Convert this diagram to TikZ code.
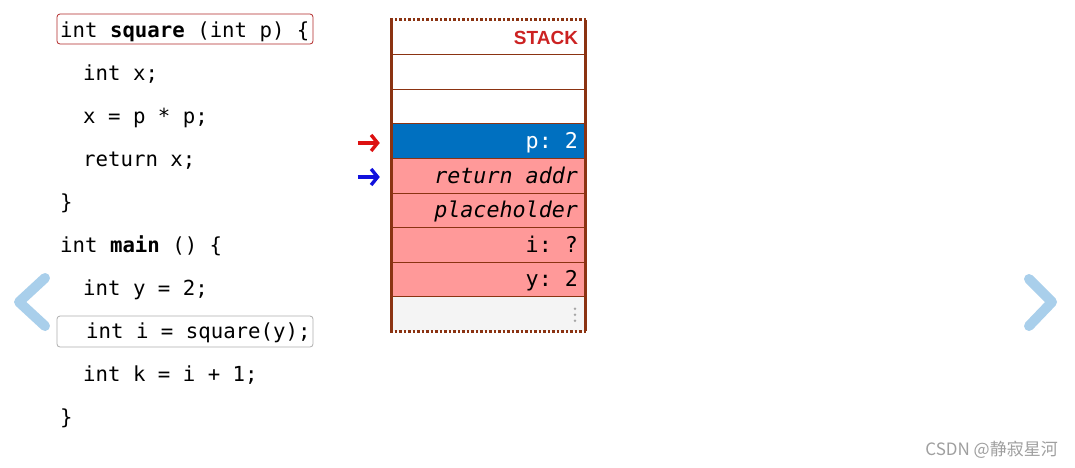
\documentclass[tikz,border=0pt]{standalone}
\usepackage{fontspec}
\setmonofont{DejaVu Sans Mono}
\setsansfont{DejaVu Sans}
\newfontfamily\cjkfont{Noto Sans CJK SC}
\newfontfamily\stackfont{Liberation Sans}
\usetikzlibrary{arrows.meta}
\definecolor{stackbrown}{RGB}{139,51,18}
\definecolor{stackred}{RGB}{204,34,34}
\definecolor{stackblue}{RGB}{0,112,192}
\definecolor{stackpink}{RGB}{255,153,153}
\definecolor{stackgray}{RGB}{244,244,244}
\definecolor{navblue}{RGB}{169,207,235}
\definecolor{boxred}{RGB}{178,40,40}
\definecolor{boxgray}{RGB}{175,175,175}
\definecolor{ptrred}{RGB}{221,17,17}
\definecolor{ptrblue}{RGB}{17,17,221}
\newcommand{\monosp}{\hspace{0.602em}}
\tikzset{
  codeline/.style={anchor=base west, inner sep=0pt, font=\fontsize{20.7}{24}\selectfont\ttfamily},
  codebox/.style={draw, rounded corners=3pt, line width=0.8pt, minimum width=256pt, inner sep=0pt},
  stackrow/.style={minimum width=193pt, minimum height=34.556pt, inner xsep=7pt, inner ysep=0pt,
    text width=179pt, align=right, text height=15pt, text depth=0pt,
    font=\fontsize{21.7}{26}\selectfont\ttfamily},
  rowsep/.style={stackbrown, line width=0.8pt},
  sideline/.style={stackbrown, line width=3pt},
  dotline/.style={stackbrown, line width=3pt, dash pattern=on 2.5pt off 2pt},
  ptr/.style={line width=3.4pt, -{Straight Barb[length=6.5pt,width=16pt]}},
  nav/.style={navblue, line width=10pt, line cap=round, line join=round},
}
\begin{document}
\begin{tikzpicture}[x=1pt,y=-1pt]
\useasboundingbox (0,0) rectangle (1075,467);
\fill[white] (0,0) rectangle (1075,467);

% highlight boxes
\node[codebox, draw=boxred, minimum height=30pt] (b1) at (185,29) {};
\node[codebox, draw=boxgray, minimum height=31pt] (b2) at (185,331.5) {};

% code lines
\node[codeline] (c1) at (60,37) {int \textbf{square} (int p) \{};
\node[codeline] (c2) at (83,80) {int x;};
\node[codeline] (c3) at (83,123) {x = p * p;};
\node[codeline] (c4) at (83,166) {return x;};
\node[codeline] (c5) at (60,209) {\}};
\node[codeline] (c6) at (60,252) {int \textbf{main} () \{};
\node[codeline] (c7) at (83,295) {int y = 2;};
\node[codeline] (c8) at (86,338) {int i = square(y);};
\node[codeline] (c9) at (83,381) {int k = i + 1;};
\node[codeline] (c10) at (60,424) {\}};

% stack rows
\node[stackrow, fill=white, font=\fontsize{19}{22}\selectfont\stackfont\bfseries, text=stackred] (r0) at (488.5,37.28) {STACK};
\node[stackrow, fill=white] (r1) at (488.5,71.83) {};
\node[stackrow, fill=white] (r2) at (488.5,106.39) {};
\node[stackrow, fill=stackblue, text=white] (r3) at (488.5,140.94) {p:\monosp 2};
\node[stackrow, fill=stackpink] (r4) at (488.5,175.5) {\itshape return\monosp addr};
\node[stackrow, fill=stackpink] (r5) at (488.5,210.06) {\itshape placeholder};
\node[stackrow, fill=stackpink] (r6) at (488.5,244.61) {i:\monosp ?};
\node[stackrow, fill=stackpink] (r7) at (488.5,279.17) {y:\monosp 2};
\node[stackrow, fill=stackgray] (r8) at (488.5,313.72) {};

\foreach \i in {0,...,7} {
  \draw[rowsep] (r\i.south west) -- (r\i.south east);
}
\draw[sideline] (r0.north west) -- (r8.south west);
\draw[sideline] (r0.north east) -- (r8.south east);
\draw[dotline] ([xshift=-1.5pt]r0.north west) -- ([xshift=1.5pt]r0.north east);
\draw[dotline] ([xshift=-1.5pt]r8.south west) -- ([xshift=1.5pt]r8.south east);

% dots in the last row
\foreach \dy in {-7,-1,5} {
  \fill[gray!70] ([xshift=86.5pt,yshift=\dy pt]r8.center) circle (1.4pt);
}

% pointers
\draw[ptr, ptrred] ([xshift=-34pt,yshift=-2pt]r3.west) -- ([xshift=-12pt,yshift=-2pt]r3.west);
\draw[ptr, ptrblue] ([xshift=-34pt,yshift=-1.5pt]r4.west) -- ([xshift=-12pt,yshift=-1.5pt]r4.west);

% navigation chevrons
\draw[nav] (45,278) -- (19,302) -- (45,326);
\draw[nav] (1029,279) -- (1052,302) -- (1029,326);

% watermark
\node[anchor=base east, inner sep=0pt, text=gray!75, font=\fontsize{17}{20}\selectfont\cjkfont] (wm) at (1058,455) {CSDN @静寂星河};
\end{tikzpicture}
\end{document}
